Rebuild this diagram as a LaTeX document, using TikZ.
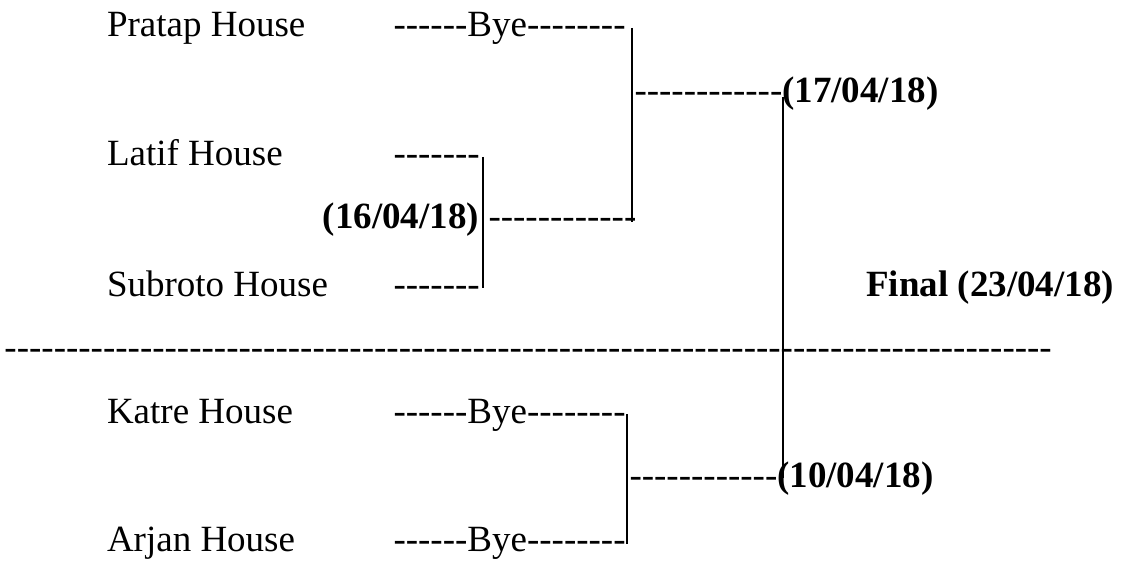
\documentclass[tikz,border=0pt]{standalone}
\usepackage{fontspec}
\setmainfont{Liberation Serif}
\newcommand\hyn[1]{\foreach \i in {1,...,#1}{\hbox{-}}}
\begin{document}
\begin{tikzpicture}[x=1pt,y=-1pt,
  txt/.style={anchor=base west,inner sep=0pt,outer sep=0pt,font=\fontsize{37}{44}\selectfont},
  btxt/.style={txt,font=\fontsize{37}{44}\selectfont\bfseries},
  vline/.style={line width=1.9pt,black}]
\useasboundingbox (0,0) rectangle (1130,564);
% names
\node[txt] (pratap) at (107,37) {Pratap House};
\node[txt] (latif) at (107,166) {Latif House};
\node[txt] (subroto) at (107,296) {Subroto House};
\node[txt] (katre) at (107,423) {Katre House};
\node[txt] (arjan) at (107,551) {Arjan House};
% dash rows
\node[txt] (pb) at (393.5,37) {\hyn{6}Bye\hyn{8}};
\node[txt] (lh) at (393.5,166) {\hyn{7}};
\node[txt] (sh) at (393.5,296) {\hyn{7}};
\node[txt] (kb) at (393.5,423) {\hyn{6}Bye\hyn{8}};
\node[txt] (ab) at (393.5,551) {\hyn{6}Bye\hyn{8}};
% dates
\node[btxt,anchor=base east] (d16) at (479,229) {(16/04/18)};
\node[txt] (h16) at (488.5,229) {\hyn{12}};
\node[txt] (h17) at (634.5,103) {\hyn{12}};
\node[btxt] (d17) at (h17.base east) {(17/04/18)};
\node[txt] (h10) at (629.5,487) {\hyn{12}};
\node[btxt] (d10) at (h10.base east) {(10/04/18)};
\node[btxt,anchor=base east] (final) at (1114,296) {Final (23/04/18)};
% separator
\node[txt] (sep) at (4.5,359) {\hyn{85}};
% junctions
\coordinate (a1) at (632,28);
\coordinate (a2) at (632,222);
\coordinate (b1) at (483,157);
\coordinate (b2) at (483,288);
\coordinate (c1) at (783,97);
\coordinate (c2) at (783,478);
\coordinate (e1) at (627,414);
\coordinate (e2) at (627,544);
\draw[vline] (a1) -- (a2);
\draw[vline] (b1) -- (b2);
\draw[vline] (c1) -- (c2);
\draw[vline] (e1) -- (e2);
\end{tikzpicture}
\end{document}
